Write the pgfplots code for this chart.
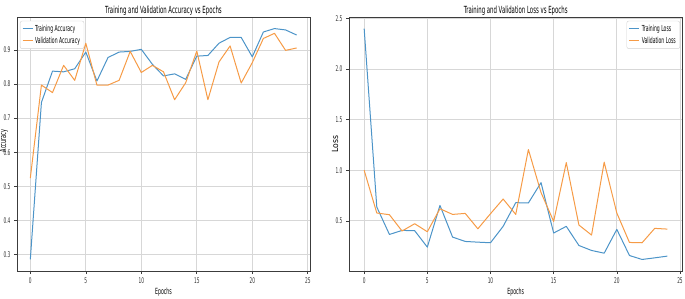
\documentclass[border=0pt]{standalone}
\usepackage{pgfplots}
\pgfplotsset{compat=1.18}
\usepackage{fontspec}
\setmainfont{DejaVu Sans}[FakeStretch=0.55]
\newfontfamily\widerfont{DejaVu Sans}[FakeStretch=0.9]
\definecolor{tblue}{RGB}{76,148,200}
\definecolor{torange}{RGB}{246,155,70}
\definecolor{spine}{RGB}{60,60,60}
\definecolor{gridc}{RGB}{215,215,215}
\pgfplotsset{
  common/.style={
    scale only axis,
    height=254pt,
    xmin=-1.2, xmax=25.2,
    xtick={0,5,10,15,20,25},
    tick pos=left,
    tick align=outside,
    major tick length=3pt,
    tick style={spine, line width=0.6pt},
    axis line style={spine, line width=0.8pt},
    grid=major,
    major grid style={gridc, line width=0.9pt},
    /pgf/number format/assume math mode=true,
    ticklabel style={font=\fontsize{7.8}{9}\selectfont, text=black!80},
    every axis title shift=0pt,
    title style={font=\fontsize{9.8}{11}\selectfont, at={(0.5,1)}, anchor=base, yshift=3.5pt},
    xlabel style={font=\fontsize{8.5}{9}\selectfont, at={(axis description cs:0.5,0)}, anchor=center, yshift=-21pt},
    ylabel style={font=\fontsize{9}{10}\selectfont, at={(axis description cs:0,0.5)}, anchor=center},
    legend cell align=left,
    legend image code/.code={\draw[#1] (0pt,0pt) -- (10pt,0pt);},
    every axis plot/.append style={line width=1pt, line join=round},
  }
}
\begin{document}
\begin{tikzpicture}[x=1pt,y=1pt]
\useasboundingbox (0,0) rectangle (685,298);
\begin{axis}[common,
  at={(17pt,27pt)}, anchor=south west,
  width=293pt,
  ymin=0.251, ymax=0.997,
  ytick={0.3,0.4,0.5,0.6,0.7,0.8,0.9},
  yticklabel style={/pgf/number format/.cd, fixed, fixed zerofill, precision=1},
  title={Training and Validation Accuracy vs Epochs},
  xlabel={Epochs}, ylabel={Accuracy},
  ylabel style={xshift=3pt, yshift=13.3pt},
  legend style={at={(0.01,0.985)}, anchor=north west, draw=gray!35, rounded corners=2pt,
    fill=white, font=\fontsize{8.3}{9.5}\selectfont, row sep=0pt, inner sep=2pt},
]
\addplot[tblue] coordinates {(0,0.285)(1,0.746)(2,0.838)(3,0.836)(4,0.845)(5,0.894)(6,0.809)(7,0.878)(8,0.894)(9,0.896)(10,0.902)(11,0.858)(12,0.824)(13,0.830)(14,0.814)(15,0.882)(16,0.884)(17,0.920)(18,0.937)(19,0.937)(20,0.880)(21,0.953)(22,0.963)(23,0.959)(24,0.944)};
\addlegendentry{Training Accuracy}
\addplot[torange] coordinates {(0,0.524)(1,0.797)(2,0.775)(3,0.855)(4,0.811)(5,0.920)(6,0.797)(7,0.797)(8,0.811)(9,0.896)(10,0.834)(11,0.855)(12,0.836)(13,0.754)(14,0.804)(15,0.897)(16,0.754)(17,0.865)(18,0.912)(19,0.803)(20,0.863)(21,0.934)(22,0.949)(23,0.899)(24,0.906)};
\addlegendentry{Validation Accuracy}
\end{axis}
\begin{axis}[common,
  at={(349pt,27pt)}, anchor=south west,
  width=333.5pt,
  ymin=0.005, ymax=2.514,
  ytick={0,0.5,1,1.5,2,2.5},
  yticklabel style={/pgf/number format/.cd, fixed, fixed zerofill, precision=1},
  title={Training and Validation Loss vs Epochs},
  xlabel={Epochs}, ylabel={\widerfont Loss},
  ylabel style={xshift=0pt, yshift=14pt, font=\fontsize{8.5}{10}\selectfont},
  legend style={at={(0.9925,0.985)}, anchor=north east, draw=gray!35, rounded corners=2pt,
    fill=white, font=\fontsize{8.3}{9.5}\selectfont, row sep=0pt, inner sep=2pt},
]
\addplot[tblue] coordinates {(0,2.40)(1,0.637)(2,0.366)(3,0.406)(4,0.403)(5,0.241)(6,0.653)(7,0.340)(8,0.297)(9,0.290)(10,0.284)(11,0.446)(12,0.680)(13,0.677)(14,0.878)(15,0.380)(16,0.446)(17,0.257)(18,0.208)(19,0.181)(20,0.416)(21,0.158)(22,0.119)(23,0.135)(24,0.152)};
\addlegendentry{Training Loss}
\addplot[torange] coordinates {(0,1.00)(1,0.578)(2,0.561)(3,0.400)(4,0.472)(5,0.393)(6,0.620)(7,0.564)(8,0.574)(9,0.422)(10,0.571)(11,0.716)(12,0.564)(13,1.205)(14,0.780)(15,0.495)(16,1.076)(17,0.459)(18,0.360)(19,1.080)(20,0.578)(21,0.287)(22,0.284)(23,0.426)(24,0.419)};
\addlegendentry{Validation Loss}
\end{axis}
\end{tikzpicture}
\end{document}
